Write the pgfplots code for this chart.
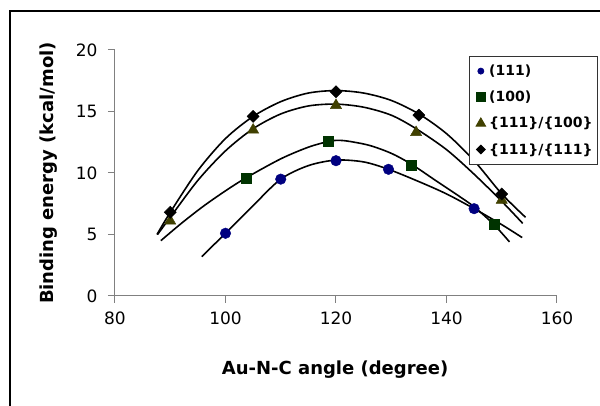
\documentclass[border=0pt]{standalone}
\usepackage{fontspec}
\setmainfont{DejaVu Sans}
\usepackage{pgfplots}
\pgfplotsset{compat=1.18}
\definecolor{serA}{RGB}{0,0,128}
\definecolor{serB}{RGB}{0,51,0}
\definecolor{serC}{RGB}{64,64,0}
\definecolor{axgray}{RGB}{128,128,128}
\begin{document}
\begin{tikzpicture}[x=1pt,y=1pt]
\useasboundingbox (0,0) rectangle (600,406);
\draw[line width=2pt] (9.5,0) -- (9.5,395) -- (600,395);
\begin{axis}[at={(115pt,110pt)},anchor=south west,scale only axis,width=442pt,height=246pt,
 xmin=80,xmax=160,ymin=0,ymax=20,xtick={80,100,...,160},ytick={0,5,...,20},
 axis x line*=bottom,axis y line*=left,axis line style={axgray,line width=1pt,-},
 tick style={axgray,line width=1pt},tick align=outside,major tick length=7pt,
 tick label style={font=\fontsize{17}{20}\selectfont,black},
 xticklabel style={yshift=-5pt},yticklabel style={xshift=-7pt},
 /pgf/number format/assume math mode=true,
 xlabel={Au-N-C angle (degree)},ylabel={Binding energy (kcal/mol)},
 label style={font=\bfseries\fontsize{18}{21}\selectfont},
 xlabel style={at={(axis description cs:0.498,-0.30)},anchor=center},
 ylabel style={at={(axis description cs:-0.150,0.5)},anchor=center},
 legend style={at={(axis description cs:0.801,0.975)},anchor=north west,draw=black!80,line width=0.8pt,
   font=\bfseries\fontsize{14}{16}\selectfont,row sep=10pt,inner xsep=3pt,inner ysep=6.5pt},
 legend cell align=left,
 legend image code/.code={\draw[#1] plot coordinates {(8pt,0pt)};\path (0pt,0pt) (14pt,0pt);},
]
% trendlines
\addplot[black,line width=1.6pt,smooth,forget plot] coordinates {(95.7,3.2) (100,5.1) (105,7.35) (110,9.5) (115,10.6) (120,11.05) (125,10.9) (129.5,10.3) (135,9.3) (140,8.3) (145,7.1) (150,5.8) (153.7,4.75)};
\addplot[black,line width=1.6pt,smooth,forget plot] coordinates {(88.3,4.5) (92,5.9) (96,7.3) (100,8.55) (103.7,9.6) (110,11.15) (115,12.1) (118.5,12.55) (120,12.65) (122,12.6) (126,12.25) (130,11.6) (133.7,10.7) (138,9.4) (142,8.2) (145,7.25) (148.6,5.8) (151.4,4.4)};
\addplot[black,line width=1.6pt,smooth,forget plot] coordinates {(87.7,5.0) (90,6.4) (95,9.4) (100,11.8) (105,13.6) (110,14.8) (115,15.45) (120,15.6) (125,15.35) (130,14.7) (134.5,13.6) (140,11.9) (145,9.9) (150,7.7) (153.8,5.9)};
\addplot[black,line width=1.6pt,smooth,forget plot] coordinates {(87.6,5.0) (90,6.8) (95,10.2) (100,12.8) (105,14.6) (110,15.8) (115,16.5) (120,16.7) (125,16.5) (130,15.9) (135,14.8) (140,13.2) (145,11.0) (150,8.3) (154.3,6.4)};
% data points
\addplot[only marks,mark=*,mark size=5.3pt,mark options={draw=serA,fill=serA},legend image post style={mark size=3pt}] coordinates {(100,5.1) (110,9.5) (120,11.0) (129.5,10.3) (145,7.1)};
\addlegendentry{(111)}
\addplot[only marks,mark=square*,mark size=5pt,mark options={draw=serB,fill=serB},legend image post style={mark size=4.5pt}] coordinates {(103.7,9.6) (118.5,12.6) (133.7,10.6) (148.6,5.8)};
\addlegendentry{(100)}
\addplot[only marks,mark=triangle*,mark size=6.5pt,mark options={draw=serC,fill=serC},legend image post style={mark size=5.5pt}] coordinates {(90,6.1) (105,13.5) (120,15.5) (134.5,13.3) (150,7.8)};
\addlegendentry{\{111\}/\{100\}}
\addplot[only marks,mark=square*,mark size=4.3pt,mark options={draw=black,fill=black,rotate=45},legend image post style={mark size=3.1pt}] coordinates {(90,6.8) (105,14.6) (120,16.6) (135,14.7) (150,8.3)};
\addlegendentry{\{111\}/\{111\}}
\end{axis}
\end{tikzpicture}
\end{document}
